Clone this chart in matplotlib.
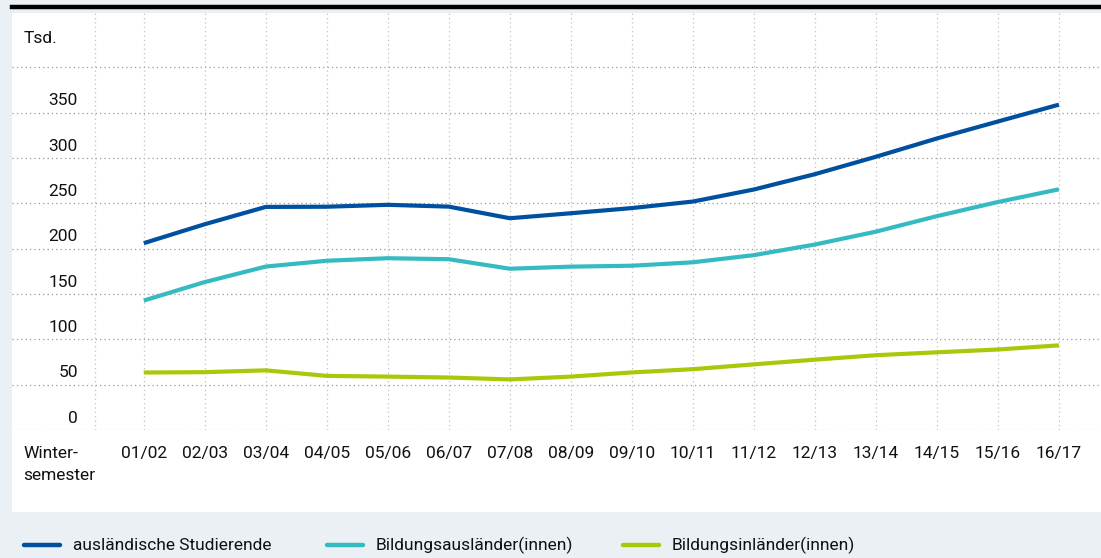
import matplotlib.pyplot as plt
from matplotlib.patches import Rectangle
from matplotlib.lines import Line2D

# Daten (Tsd.), Wintersemester 2001/02 bis 2016/17
semester = ["01/02", "02/03", "03/04", "04/05", "05/06", "06/07", "07/08", "08/09",
            "09/10", "10/11", "11/12", "12/13", "13/14", "14/15", "15/16", "16/17"]
auslaendische = [206.1, 227.0, 246.1, 246.3, 248.4, 246.4, 233.6, 239.1,
                 244.8, 252.0, 265.3, 282.2, 301.4, 321.6, 340.3, 358.9]
bildungsauslaender = [142.8, 163.2, 180.3, 186.7, 189.5, 188.4, 177.9, 180.2,
                      181.2, 185.0, 192.9, 204.6, 218.8, 235.9, 251.5, 265.5]
bildungsinlaender = [63.4, 63.8, 65.8, 59.7, 58.9, 57.9, 55.8, 58.9,
                     63.5, 67.1, 72.4, 77.6, 82.5, 85.7, 88.8, 93.4]
yticks = [0, 50, 100, 150, 200, 250, 300, 350]
namen = ["ausländische Studierende", "Bildungsausländer(innen)", "Bildungsinländer(innen)"]
farben = ["#0050a0", "#36bac2", "#a8c80a"]

plt.rcParams['font.family'] = ['Roboto', 'DejaVu Sans']
fs = 12.5

W, H = 1101, 558
fig = plt.figure(figsize=(W / 100, H / 100), dpi=100)
fig.patch.set_facecolor("#ebf0f4")

# weisses Feld und schwarze Linie oben
fig.patches.append(Rectangle((12 / W, 1 - 512 / H), (W - 12) / W, (512 - 13) / H,
                             transform=fig.transFigure, facecolor="white", edgecolor="none", zorder=0))
fig.add_artist(Line2D([12 / W, 1], [1 - 7 / H, 1 - 7 / H], color="black", lw=3.2,
                      transform=fig.transFigure))

ax = fig.add_axes([12 / W, 1 - 430 / H, (W - 12) / W, (430 - 13) / H])
ax.set_zorder(2)
ax.set_facecolor("none")
x = list(range(len(semester)))
ax.set_xlim(-2.16, 15.69)
ax.set_ylim(0, 460)
for s in ax.spines.values():
    s.set_visible(False)
ax.set_xticks([])
ax.set_yticks([])

# Gitter
for v in yticks + [400]:
    ax.axhline(v, color="#999999", lw=0.9, ls=(0, (1, 2.5)), zorder=1)
for xv in [-0.8] + x:
    ax.axvline(xv, color="#c0c0c0", lw=0.9, ls=(0, (1, 2.5)), zorder=1)

for werte, farbe in zip([auslaendische, bildungsauslaender, bildungsinlaender], farben):
    ax.plot(x, werte, color=farbe, lw=3.0, zorder=3, solid_capstyle="butt")

for v in yticks:
    ax.text(-1.08, v + 13, str(v), ha="right", va="center", fontsize=fs, color="#111111")
ax.text(-1.97, 432, "Tsd.", ha="left", va="center", fontsize=fs, color="#111111")

for xi, lab in zip(x, semester):
    ax.text(xi, -26, lab, ha="center", va="center", fontsize=fs, color="#111111",
            clip_on=False)
ax.text(-1.97, -17.5, "Winter-\nsemester", ha="left", va="top", fontsize=fs,
        color="#111111", linespacing=1.6, clip_on=False)

# Legende
lx = [24, 327, 623]
ly = 1 - 545 / H
for px, name, farbe in zip(lx, namen, farben):
    fig.add_artist(Line2D([px / W, (px + 36) / W], [ly, ly], color=farbe, lw=3.2,
                          solid_capstyle="round", transform=fig.transFigure))
    fig.text((px + 49) / W, ly, name, ha="left", va="center", fontsize=fs, color="#111111")

fig.savefig("out.png", dpi=100, facecolor=fig.get_facecolor())
